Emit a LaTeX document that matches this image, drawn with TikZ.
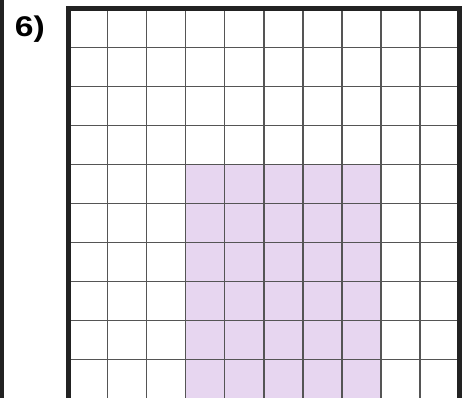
\documentclass[tikz,border=0pt]{standalone}
\usepackage{fontspec}
\newfontfamily\lblfont[FakeStretch=1.18]{Liberation Sans}
\definecolor{regionfill}{RGB}{231,214,240}
\definecolor{gridgray}{RGB}{85,85,85}
\definecolor{borderdark}{RGB}{34,34,34}
\begin{document}
\begin{tikzpicture}[x=1pt,y=1pt,
  gridline/.style={draw=gridgray,line width=1.4pt},
  borderline/.style={draw=borderdark,line width=5pt},
  lbl/.style={font=\lblfont\bfseries\fontsize{28.5}{33}\selectfont,inner sep=0pt,anchor=base west}]
\useasboundingbox (0,0) rectangle (464,397);
\begin{scope}
\clip (0,0) rectangle (464,397);
% left bar
\fill[borderdark] (0,-5) rectangle (4,402);
% shaded region
\fill[regionfill] (185.7,-5) rectangle (380.8,232.5);
% vertical inner lines
\foreach \i in {1,...,9} {
  \draw[gridline] ({68.5+39.07*\i},-5) -- ({68.5+39.07*\i},388.5);
}
% horizontal lines
\foreach \j in {1,...,10} {
  \draw[gridline] (68.5,{388.5-38.98*\j}) -- (459.2,{388.5-38.98*\j});
}
% border
\draw[borderline] (68.5,-5) -- (68.5,388.5) -- (459.2,388.5) -- (459.2,-5);
\end{scope}
\node[lbl] (label) at (14.8,360.5) {6)};
\end{tikzpicture}
\end{document}
